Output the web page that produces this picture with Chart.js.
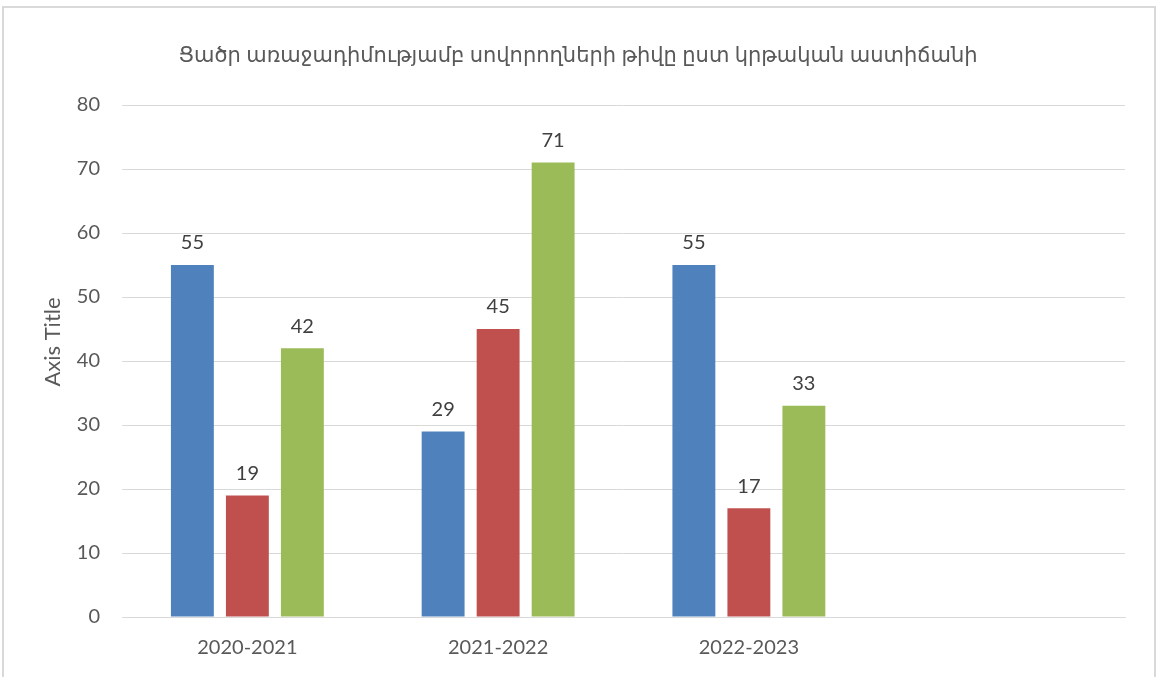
<!DOCTYPE html>
<html>
<head>
<meta charset="utf-8">
<script src="https://cdn.jsdelivr.net/npm/chart.js@4"></script>
<style>
  body { margin: 0; background: #fff; }
  #frame { position: absolute; left: 2px; top: 6px; width: 1150px; height: 700px; border: 2px solid #d9d9d9; }
  #wrap { position: absolute; left: 0; top: 0; width: 1156px; height: 677px; }
</style>
</head>
<body>
<div id="frame"></div>
<div id="wrap"><canvas id="myChart" width="1156" height="677"></canvas></div>
<script>
const years = ["2020-2021", "2021-2022", "2022-2023", ""];
const seriesA = [55, 29, 55, null];
const seriesB = [19, 45, 17, null];
const seriesC = [42, 71, 33, null];
const yTicks = [0, 10, 20, 30, 40, 50, 60, 70, 80];

const chartTitle = "Ցածր առաջադիմությամբ սովորողների թիվը ըստ կրթական աստիճանի";
const axisTitle = "Axis Title";
const fontFam = "Lato, 'DejaVu Sans', sans-serif";

// chart title, axis title and labels above each bar
const extraText = {
    id: 'extraText',
    afterDatasetsDraw(chart) {
        const c = chart.ctx;
        c.save();
        c.fillStyle = "#595959";
        c.textAlign = "center";
        c.textBaseline = "middle";
        c.font = "21px " + fontFam;
        c.fillText(chartTitle, chart.width / 2, 55);

        c.save();
        c.translate(53, 342);
        c.rotate(-Math.PI / 2);
        c.font = "22px " + fontFam;
        c.fillText(axisTitle, 0, 0);
        c.restore();

        c.font = "20px " + fontFam;
        c.fillStyle = "#404040";
        c.textBaseline = "bottom";
        chart.data.datasets.forEach((ds, i) => {
            chart.getDatasetMeta(i).data.forEach((bar, j) => {
                if (ds.data[j] == null) return;
                c.fillText(ds.data[j], bar.x, bar.y - 12);
            });
        });
        c.restore();
    }
};

const ctx = document.getElementById('myChart');

new Chart(ctx, {
    type: 'bar',
    data: {
        labels: years,
        datasets: [
            { label: 'A', data: seriesA, backgroundColor: '#4f81bd' },
            { label: 'B', data: seriesB, backgroundColor: '#c0504d' },
            { label: 'C', data: seriesC, backgroundColor: '#9bbb59' }
        ]
    },
    options: {
        responsive: false,
        animation: false,
        devicePixelRatio: 1,
        categoryPercentage: 0.658,
        barPercentage: 0.78,
        layout: { padding: { left: 0, right: 31, top: 105, bottom: 0 } },
        plugins: {
            legend: { display: false },
            tooltip: { enabled: false },
            title: { display: false }
        },
        scales: {
            x: {
                grid: { display: false, drawTicks: false },
                border: { display: true, color: '#d9d9d9', width: 1 },
                ticks: { color: "#595959", font: { family: fontFam, size: 20 }, padding: 19, maxRotation: 0 },
                afterFit(scale) { scale.height = 60; }
            },
            y: {
                min: 0,
                max: 80,
                afterBuildTicks(scale) { scale.ticks = yTicks.map(v => ({ value: v })); },
                grid: { color: '#d9d9d9', drawTicks: false },
                border: { display: false },
                ticks: { color: "#595959", font: { family: fontFam, size: 20 }, padding: 22 },
                afterFit(scale) { scale.width = 122; }
            }
        }
    },
    plugins: [extraText]
});
</script>
</body>
</html>
